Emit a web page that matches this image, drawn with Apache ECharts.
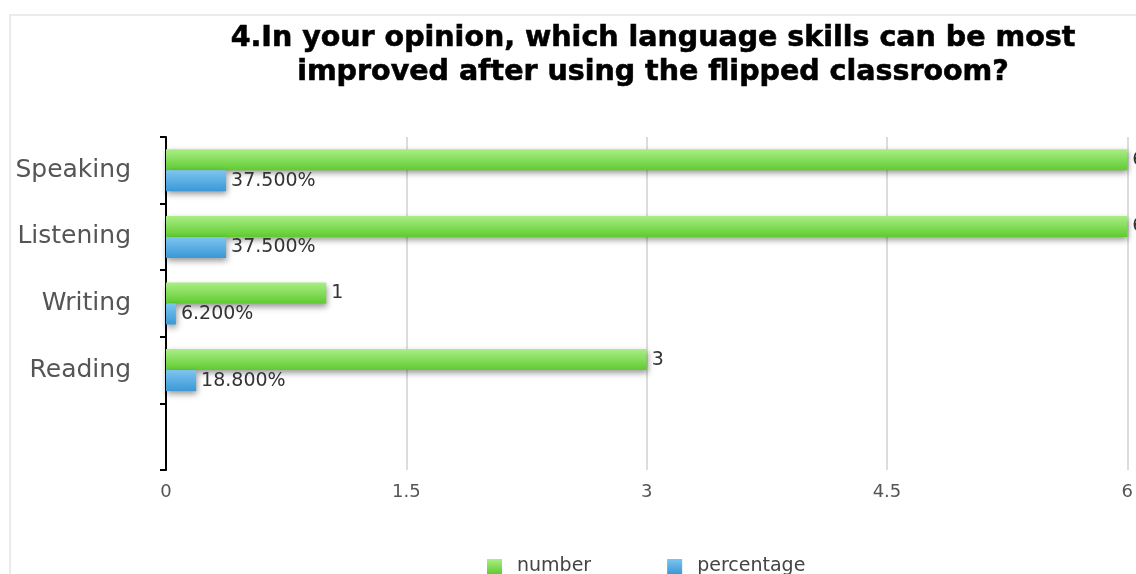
<!DOCTYPE html>
<html>
<head>
<meta charset="utf-8">
<title>Language skills improved by the flipped classroom</title>
<script src="https://cdn.jsdelivr.net/npm/echarts@6/dist/echarts.min.js"></script>
<style>
  html, body { margin: 0; padding: 0; background: #ffffff; }
  #chart { width: 1136px; height: 574px; }
</style>
</head>
<body>
<div id="chart"></div>
<script>
// Survey answers, top row first; the last band is left empty.
const categories = ['Speaking', 'Listening', 'Writing', 'Reading', ''];
const numbers = [6, 6, 1, 3, null];
const percentages = [37.5, 37.5, 6.2, 18.8, null];
const xTicks = { min: 0, max: 6, interval: 1.5 };

const titleText = '4.In your opinion, which language skills can be most\nimproved after using the flipped classroom?';

function barGradient(top, bottom) {
  return new echarts.graphic.LinearGradient(0, 0, 0, 1, [
    { offset: 0, color: top },
    { offset: 1, color: bottom }
  ]);
}

const chart = echarts.init(document.getElementById('chart'), null, { renderer: 'canvas' });

const option = {
  backgroundColor: '#ffffff',
  animation: false,
  graphic: [{
    type: 'rect',
    shape: { x: 10, y: 15, width: 1200, height: 700 },
    style: { fill: 'none', stroke: '#ebebeb', lineWidth: 2 },
    silent: true,
    z: -10
  }],
  title: {
    text: titleText,
    left: 648,
    top: 17,
    textAlign: 'center',
    textStyle: {
      fontFamily: 'DejaVu Sans',
      fontWeight: 'bold',
      fontSize: 28.5,
      lineHeight: 34,
      color: '#000000',
      textBorderColor: '#000000',
      textBorderWidth: 0.6
    }
  },
  legend: {
    data: ['number', 'percentage'],
    left: 487,
    top: 557,
    padding: 0,
    itemWidth: 15,
    itemHeight: 15,
    itemGap: 76,
    icon: 'rect',
    textStyle: {
      fontFamily: 'DejaVu Sans',
      fontSize: 19,
      color: '#444444',
      padding: [0, 0, 0, 10]
    }
  },
  grid: {
    left: 166,
    right: 8,
    top: 137,
    bottom: 104,
    containLabel: false
  },
  xAxis: {
    type: 'value',
    min: xTicks.min,
    max: xTicks.max,
    interval: xTicks.interval,
    axisLine: { show: false },
    axisTick: { show: false },
    splitLine: { show: true, lineStyle: { color: '#dcdcdc', width: 2 } },
    axisLabel: {
      margin: 13,
      fontFamily: 'DejaVu Sans',
      fontSize: 18,
      color: '#555555'
    }
  },
  yAxis: {
    type: 'category',
    inverse: true,
    data: categories,
    axisLine: { show: true, lineStyle: { color: '#000000', width: 2 } },
    axisTick: { show: true, length: 6, lineStyle: { color: '#000000', width: 2 } },
    axisLabel: {
      margin: 35,
      fontFamily: 'DejaVu Sans',
      fontSize: 25,
      color: '#555555'
    },
    splitLine: { show: false }
  },
  series: [
    {
      name: 'number',
      type: 'bar',
      data: numbers,
      barWidth: 21,
      barGap: '0%',
      itemStyle: {
        color: barGradient('#aaee85', '#5fcb30'),
        shadowColor: 'rgba(0,0,0,0.4)',
        shadowBlur: 6,
        shadowOffsetY: 3,
        shadowOffsetX: 1
      },
      label: {
        show: true,
        position: 'right',
        distance: 5,
        fontFamily: 'DejaVu Sans',
        fontSize: 19,
        color: '#333333',
        formatter: (p) => String(p.value)
      }
    },
    {
      name: 'percentage',
      type: 'bar',
      data: percentages.map(v => (v == null ? null : v / 100)),
      barWidth: 21,
      barGap: '0%',
      itemStyle: {
        color: barGradient('#7cc5f0', '#3b98d6'),
        shadowColor: 'rgba(0,0,0,0.4)',
        shadowBlur: 6,
        shadowOffsetY: 3,
        shadowOffsetX: 1
      },
      label: {
        show: true,
        position: 'right',
        distance: 5,
        fontFamily: 'DejaVu Sans',
        fontSize: 19,
        color: '#333333',
        formatter: (p) => percentages[p.dataIndex].toFixed(3) + '%'
      }
    }
  ]
};

chart.setOption(option);
</script>
</body>
</html>
